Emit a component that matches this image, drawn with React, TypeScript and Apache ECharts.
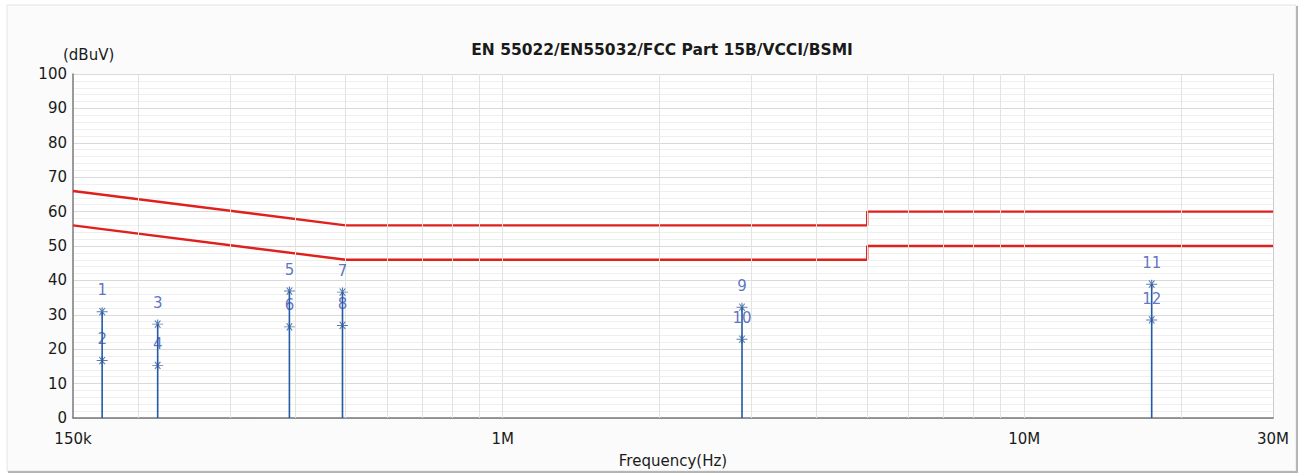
import React, { useEffect, useRef } from "react";
import * as echarts from "echarts";

// ---- data ----
const titleText = "EN 55022/EN55032/FCC Part 15B/VCCI/BSMI";
const yUnit = "(dBuV)";
const xName = "Frequency(Hz)";

// limit lines (frequency in Hz, level in dBuV)
const limitFreqs = [150000, 500000, 5000000, 5000000, 30000000];
const qpLimit = [66, 56, 56, 60, 60];
const avLimit = [56, 46, 46, 50, 50];

// measured markers: each frequency has an upper (odd number) and lower (even number) reading
const markerFreqs = [170600, 218000, 390000, 493000, 2877000, 17560000];
const upperValues = [30.9, 27.3, 36.9, 36.6, 32.2, 38.9];
const lowerValues = [16.7, 15.3, 26.5, 26.9, 22.9, 28.5];
const upperLabels = ["1", "3", "5", "7", "9", "11"];
const lowerLabels = ["2", "4", "6", "8", "10", "12"];

// x tick labels
const xTickValues = [150000, 1000000, 10000000, 30000000];
const xTickLabels = ["150k", "1M", "10M", "30M"];

// vertical grid lines (1..9 multiples per decade)
const vGridFreqs = [
  200000, 300000, 400000, 500000, 600000, 700000, 800000, 900000,
  1000000, 2000000, 3000000, 4000000, 5000000, 6000000, 7000000, 8000000, 9000000,
  10000000, 20000000,
];

const FONT = "DejaVu Sans";
const STAR = "path://M0,5 L12,5 M3,1 L9,9 M9,1 L3,9 M6,0 L6,10";

export default function App() {
  const ref = useRef<HTMLDivElement>(null);

  useEffect(() => {
    if (!ref.current) return;
    const chart = echarts.init(ref.current, undefined, { renderer: "svg" });

    const stemSeries = markerFreqs.map((f, i) => ({
      type: "line",
      data: [
        [f, 0],
        [f, upperValues[i]],
      ],
      symbol: "none",
      lineStyle: { color: "#1f5ba6", width: 1.6 },
      z: 3,
      silent: true,
    }));

    const starStyle = {
      color: "transparent",
      borderColor: "#2d5a9c",
      borderWidth: 1,
    };

    const option: any = {
      animation: false,
      backgroundColor: "transparent",
      title: {
        text: titleText,
        left: 657,
        textAlign: "center",
        top: 37,
        textStyle: { fontFamily: FONT, fontWeight: "bold", fontSize: 15.5, color: "#1a1a1a" },
      },
      graphic: [
        {
          type: "rect",
          z: -10,
          shape: { x: 7, y: 5, width: 1289, height: 466 },
          style: { fill: "#fbfbfb", stroke: "#e4e4e4", lineWidth: 1 },
        },
        {
          type: "line",
          z: -9,
          shape: { x1: 1297, y1: 6, x2: 1297, y2: 472 },
          style: { stroke: "#b5b5b5", lineWidth: 2 },
        },
        {
          type: "line",
          z: -9,
          shape: { x1: 8, y1: 472, x2: 1298, y2: 472 },
          style: { stroke: "#b5b5b5", lineWidth: 2 },
        },
        {
          type: "text",
          left: 63,
          top: 47,
          style: { text: yUnit, fontFamily: FONT, fontSize: 15, fill: "#1a1a1a" },
        },
      ],
      grid: {
        left: 73,
        right: 31,
        top: 74,
        bottom: 57,
        show: true,
        backgroundColor: "#ffffff",
        borderWidth: 0,
      },
      xAxis: [
        {
          type: "log",
          logBase: 10,
          min: 150000,
          max: 30000000,
          name: xName,
          nameLocation: "middle",
          nameGap: 35,
          nameTextStyle: { fontFamily: FONT, fontSize: 15, color: "#1a1a1a" },
          axisLine: { show: true, lineStyle: { color: "#cccccc", width: 1 } },
          axisTick: { show: false },
          splitLine: { show: false },
          axisLabel: {
            showMinLabel: true,
            showMaxLabel: true,
            margin: 13,
            fontFamily: FONT,
            fontSize: 15,
            color: "#1a1a1a",
            formatter: (v: number) => {
              for (let k = 0; k < xTickValues.length; k++) {
                if (Math.abs(v - xTickValues[k]) / xTickValues[k] < 1e-6) return xTickLabels[k];
              }
              return "";
            },
          },
        },
        {
          type: "value",
          position: "top",
          min: 0,
          max: 1,
          axisLine: { show: true, lineStyle: { color: "#7a7a7a", width: 1.5 } },
          axisTick: { show: false },
          axisLabel: { show: false },
          splitLine: { show: false },
        },
      ],
      yAxis: [
        {
          type: "value",
          min: 0,
          max: 100,
          interval: 10,
          axisLine: { show: true, lineStyle: { color: "#7a7a7a", width: 1.5 } },
          axisTick: { show: false },
          axisLabel: { margin: 6, fontFamily: FONT, fontSize: 15, color: "#1a1a1a" },
          splitLine: { show: true, lineStyle: { color: "#d9d9d9", width: 1 } },
          minorTick: { show: false, splitNumber: 5 },
          minorSplitLine: { show: true, lineStyle: { color: "#efefef", width: 1 } },
        },
        {
          type: "value",
          position: "right",
          min: 0,
          max: 100,
          axisLine: { show: true, lineStyle: { color: "#cccccc", width: 1 } },
          axisTick: { show: false },
          axisLabel: { show: false },
          splitLine: { show: false },
        },
      ],
      series: [
        {
          type: "line",
          data: [[150000, 0]],
          symbol: "none",
          lineStyle: { width: 0 },
          silent: true,
          z: 1,
          markLine: {
            silent: true,
            symbol: "none",
            label: { show: false },
            lineStyle: { color: "#e3e3e3", width: 1, type: "solid" },
            data: vGridFreqs.map((f) => ({ xAxis: f })),
          },
        },
        {
          type: "line",
          name: "QP Limit",
          data: limitFreqs.map((f, i) => [f, qpLimit[i]]),
          symbol: "none",
          lineStyle: { color: "#e0201c", width: 2.4 },
          z: 4,
        },
        {
          type: "line",
          name: "AV Limit",
          data: limitFreqs.map((f, i) => [f, avLimit[i]]),
          symbol: "none",
          lineStyle: { color: "#e0201c", width: 2.4 },
          z: 4,
        },
        ...stemSeries,
        {
          type: "scatter",
          data: markerFreqs.map((f, i) => [f, upperValues[i]]),
          symbol: STAR,
          symbolSize: [11, 9],
          itemStyle: starStyle,
          z: 5,
          label: {
            show: true,
            position: "top",
            distance: 9,
            fontFamily: FONT,
            fontSize: 15,
            color: "#3452b4",
            formatter: (p: any) => upperLabels[p.dataIndex],
          },
        },
        {
          type: "scatter",
          data: markerFreqs.map((f, i) => [f, lowerValues[i]]),
          symbol: STAR,
          symbolSize: [11, 9],
          itemStyle: starStyle,
          z: 5,
          label: {
            show: true,
            position: "top",
            distance: 9,
            fontFamily: FONT,
            fontSize: 15,
            color: "#3452b4",
            formatter: (p: any) => lowerLabels[p.dataIndex],
          },
        },
      ],
    };

    chart.setOption(option);
    return () => chart.dispose();
  }, []);

  return (
    <div
      ref={ref}
      style={{ position: "absolute", left: 0, top: 0, width: 1304, height: 475, background: "#ffffff" }}
    />
  );
}
